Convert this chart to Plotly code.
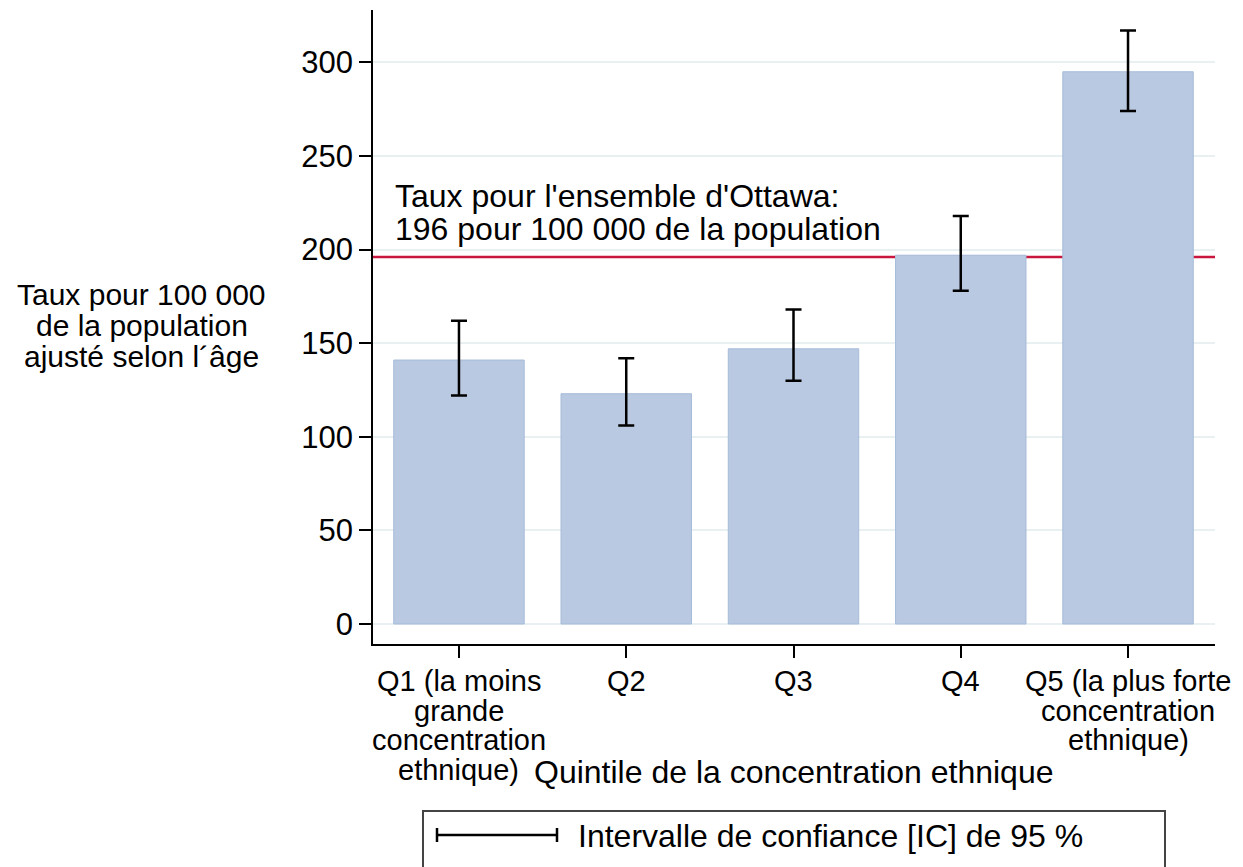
import plotly.graph_objects as go

# ---------------- data ----------------
categories = ["Q1", "Q2", "Q3", "Q4", "Q5"]
tick_labels = [
    ["Q1 (la moins", "grande", "concentration", "ethnique)"],
    ["Q2"],
    ["Q3"],
    ["Q4"],
    ["Q5 (la plus forte", "concentration", "ethnique)"],
]
rates = [141, 123, 147, 197, 295]
ci_low = [122, 106, 130, 178, 274]
ci_high = [162, 142, 168, 218, 317]
ottawa_rate = 196
y_ticks = [0, 50, 100, 150, 200, 250, 300]
y_title_lines = ["Taux pour 100 000", "de la population", "ajusté selon l´âge"]
x_title = "Quintile de la concentration ethnique"
ref_text_lines = ["Taux pour l'ensemble d'Ottawa:", "196 pour 100 000 de la population"]
legend_text = "Intervalle de confiance [IC] de 95 %"

# ---------------- layout helpers ----------------
W, H = 1243, 867
L, R, T, B = 373, 1215, 10, 644  # plot-area pixel bounds
FONT = "Liberation Sans, Arial, sans-serif"


def px(x):
    return (x - L) / (R - L)


def py(y):
    return (B - y) / (B - T)


fig = go.Figure()
fig.add_trace(
    go.Bar(
        x=categories,
        y=rates,
        width=0.78,
        marker=dict(color="#b8c9e1", line=dict(color="#a7bcd9", width=1)),
        error_y=dict(
            type="data",
            symmetric=False,
            array=[h - v for h, v in zip(ci_high, rates)],
            arrayminus=[v - l for v, l in zip(rates, ci_low)],
            color="black",
            thickness=2.5,
            width=8,
        ),
        showlegend=False,
        hoverinfo="skip",
    )
)

shapes = [
    dict(type="line", xref="paper", x0=0, x1=1, yref="y", y0=ottawa_rate, y1=ottawa_rate,
         line=dict(color="#c8163e", width=2.5), layer="below"),
    # legend box
    dict(type="rect", xref="paper", yref="paper", x0=px(423), x1=px(1165), y0=py(811), y1=py(880),
         line=dict(color="#444444", width=2), fillcolor="white"),
    dict(type="line", xref="paper", yref="paper", x0=px(437), x1=px(557), y0=py(835), y1=py(835),
         line=dict(color="black", width=2.5)),
    dict(type="line", xref="paper", yref="paper", x0=px(437), x1=px(437), y0=py(828), y1=py(842),
         line=dict(color="black", width=2.5)),
    dict(type="line", xref="paper", yref="paper", x0=px(557), x1=px(557), y0=py(828), y1=py(842),
         line=dict(color="black", width=2.5)),
]

annotations = []
for cat, lines in zip(categories, tick_labels):
    for j, line in enumerate(lines):
        annotations.append(dict(x=cat, xref="x", y=py(681 + 29.6 * j), yref="paper", text=line,
                                showarrow=False, xanchor="center", yanchor="middle",
                                font=dict(size=29)))
for j, line in enumerate(y_title_lines):
    annotations.append(dict(x=px(142), xref="paper", y=py(294 + 31.5 * j), yref="paper", text=line,
                            showarrow=False, xanchor="center", yanchor="middle", font=dict(size=30)))
for j, line in enumerate(ref_text_lines):
    annotations.append(dict(x=px(393), xref="paper", y=py(196 + 33 * j), yref="paper", text=line,
                            showarrow=False, xanchor="left", yanchor="middle", font=dict(size=32)))
annotations.append(dict(x=px(793), xref="paper", y=py(772), yref="paper", text=x_title,
                        showarrow=False, xanchor="center", yanchor="middle", font=dict(size=32)))
annotations.append(dict(x=px(576), xref="paper", y=py(836), yref="paper", text=legend_text,
                        showarrow=False, xanchor="left", yanchor="middle", font=dict(size=32)))

fig.update_layout(
    width=W,
    height=H,
    autosize=False,
    margin=dict(l=L, r=W - R, t=T, b=H - B, pad=0),
    paper_bgcolor="white",
    plot_bgcolor="white",
    font=dict(family=FONT, color="black"),
    shapes=shapes,
    annotations=annotations,
    bargap=0.2,
)
fig.update_xaxes(
    range=[-0.514, 4.52],
    showline=True, linecolor="black", linewidth=1.5,
    ticks="outside", ticklen=12, tickwidth=1.5, tickcolor="black",
    showticklabels=False, showgrid=False, zeroline=False,
)
fig.update_yaxes(
    range=[-10.7, 328],
    tickvals=y_ticks,
    showline=True, linecolor="black", linewidth=1.5,
    ticks="outside", ticklen=12, tickwidth=1.5, tickcolor="black",
    tickfont=dict(size=31),
    showgrid=True, gridcolor="#e8f0f2", gridwidth=2,
    zeroline=False,
)

fig.write_html("out.html", config={"displayModeBar": False},
               post_script="document.body.style.margin='0';")
